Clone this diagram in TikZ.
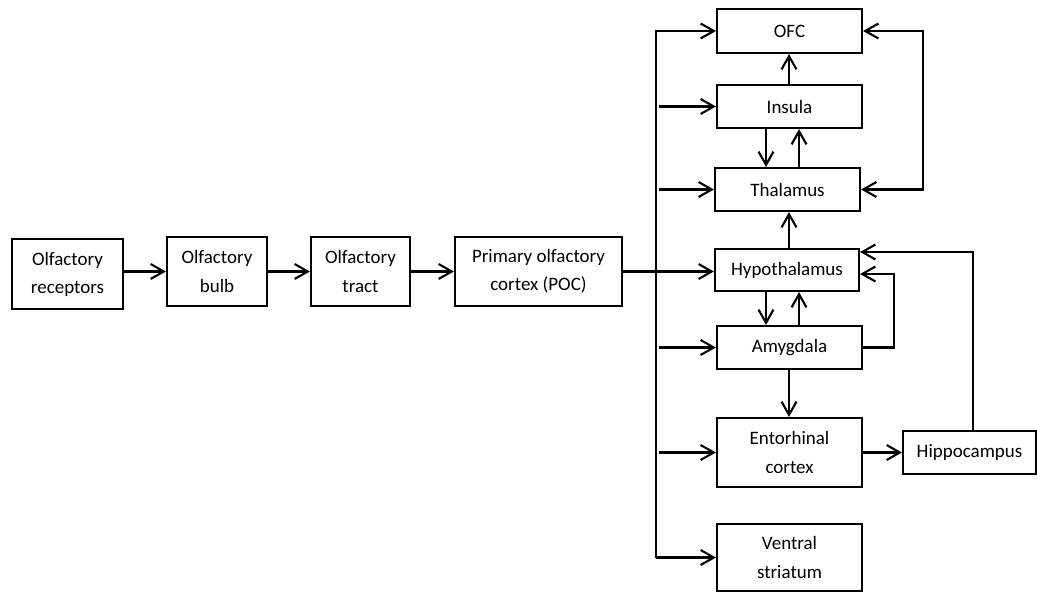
\documentclass[tikz,border=0pt]{standalone}
\usepackage{fontspec}
\setmainfont{Carlito}
\usetikzlibrary{arrows.meta}
\begin{document}
\begin{tikzpicture}[x=0.02cm,y=-0.02cm,
  box/.style={draw,line width=1.2pt,inner sep=0pt,align=center,font=\fontsize{10.8}{16}\selectfont},
  tip/.tip={Straight Barb[length=7.5pt,width=8.5pt,line width=1.2pt]},
  arr/.style={line width=1.2pt,-tip}]
\useasboundingbox (0,0) rectangle (1037,592);
\newcommand{\bx}[6]{\node[box,minimum width=#4*0.02cm,minimum height=#5*0.02cm] (#1) at (#2,#3) {#6};}
\bx{rec}{67.5}{274}{111}{70}{Olfactory\\receptors}
\bx{bulb}{217}{271.5}{100}{69}{Olfactory\\bulb}
\bx{tract}{360.5}{271.5}{99}{69}{Olfactory\\tract}
\bx{poc}{538.5}{271.5}{167}{69}{Primary olfactory\\cortex (POC)}
\bx{ofc}{789.5}{31}{145}{44}{OFC}
\bx{ins}{789.5}{106.5}{145}{43}{Insula}
\bx{thal}{787.5}{189.5}{145}{43}{Thalamus}
\bx{hypo}{787}{270}{144}{42}{Hypothalamus}
\bx{amyg}{789.5}{347.5}{145}{43}{Amygdala}
\bx{ento}{789.5}{452.5}{145}{69}{Entorhinal\\cortex}
\bx{hippo}{969.5}{452.5}{133}{43}{Hippocampus}
\bx{vs}{789.5}{557.5}{145}{67}{Ventral\\striatum}
\coordinate (tr) at (656,0);
\coordinate (trg) at (659,0);
\coordinate (xl) at (766,0);
\coordinate (xr) at (799,0);
\coordinate (xm) at (789,0);
\coordinate (lp) at (923,0);
\coordinate (ap) at (894,0);
\coordinate (hl) at (973,0);
\coordinate (yh) at (0,252);
\coordinate (ya) at (0,274);
% main chain
\draw[arr] (bulb.west -| rec.east) -- (bulb.west);
\draw[arr] (tract.west -| bulb.east) -- (tract.west);
\draw[arr] (poc.west -| tract.east) -- (poc.west);
\draw[arr] (poc.east) -- (poc.east -| hypo.west);
% trunk
\draw[arr] (vs.west -| tr) -- (ofc.west -| tr) -- (ofc.west);
\draw[arr] (vs.west -| tr) -- (vs.west);
\draw[arr] (ins.west -| trg) -- (ins.west);
\draw[arr] (thal.west -| trg) -- (thal.west);
\draw[arr] (amyg.west -| trg) -- (amyg.west);
\draw[arr] (ento.west -| trg) -- (ento.west);
% column arrows
\draw[arr] (ins.north -| xm) -- (ofc.south -| xm);
\draw[arr] (ins.south -| xl) -- (thal.north -| xl);
\draw[arr] (thal.north -| xr) -- (ins.south -| xr);
\draw[arr] (hypo.north -| xm) -- (thal.south -| xm);
\draw[arr] (hypo.south -| xl) -- (amyg.north -| xl);
\draw[arr] (amyg.north -| xr) -- (hypo.south -| xr);
\draw[arr] (amyg.south -| xm) -- (ento.north -| xm);
\draw[arr] (ento.east) -- (ento.east -| hippo.west);
% loops
\draw[arr,tip-tip] (ofc.east) -- (ofc.east -| lp) -- (thal.east -| lp) -- (thal.east);
\draw[arr] (amyg.east) -- (amyg.east -| ap) -- (ya -| ap) -- (ya -| hypo.east);
\draw[arr] (hippo.north -| hl) -- (yh -| hl) -- (yh -| hypo.east);
\end{tikzpicture}
\end{document}
